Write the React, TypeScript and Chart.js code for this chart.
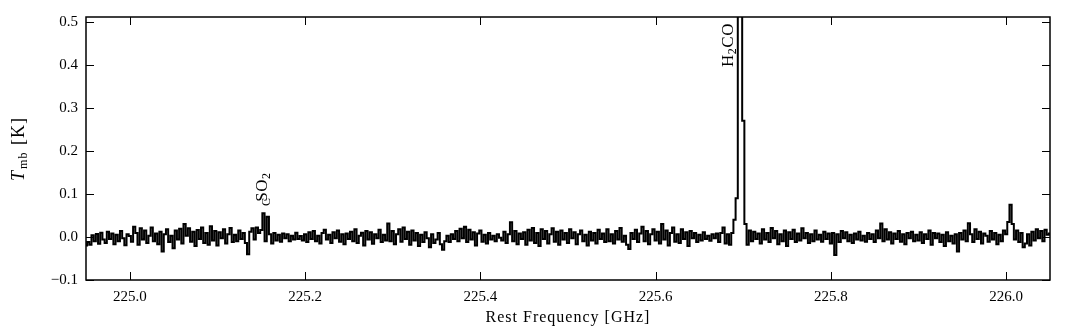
import React, { useEffect, useRef } from "react";
import { Chart, registerables } from "chart.js";

Chart.register(...registerables);

// Spectrum channel grid (GHz)
const FREQ_START = 224.95;
const FREQ_STEP = 0.0025;

// Main-beam temperature per channel [K]
const TMB = [
  -0.020, -0.012, -0.018, 0.004, -0.010, 0.007, -0.016, 0.010, -0.006, -0.014, 0.012, -0.005, 0.008, -0.017, 0.005, -0.010, 0.014, -0.003, -0.019, 0.006,
  0.002, -0.011, 0.024, 0.009, -0.018, 0.020, -0.006, 0.015, -0.014, 0.003, 0.022, -0.010, 0.008, -0.017, 0.012, -0.034, 0.006, 0.018, -0.012, 0.003,
  -0.026, 0.015, -0.006, 0.019, -0.015, 0.030, 0.003, 0.020, -0.011, 0.012, -0.021, 0.016, -0.005, 0.022, -0.014, 0.009, -0.018, 0.025, -0.008, 0.014,
  -0.020, 0.011, -0.003, 0.018, -0.015, 0.006, 0.021, -0.012, 0.005, -0.010, 0.015, -0.005, 0.009, -0.014, -0.040, 0.012, 0.020, -0.006, 0.022, 0.009,
  0.016, 0.055, -0.010, 0.047, 0.006, -0.015, 0.009, -0.008, 0.005, -0.011, 0.008, -0.003, 0.006, -0.010, 0.003, -0.006, 0.010, -0.005, 0.002, -0.008,
  0.006, -0.012, 0.011, -0.005, 0.014, -0.010, 0.003, -0.015, 0.009, 0.017, -0.006, 0.005, -0.014, 0.011, -0.003, 0.015, -0.011, 0.006, -0.017, 0.008,
  -0.005, 0.012, -0.010, 0.018, -0.014, 0.003, 0.010, -0.020, 0.014, -0.006, 0.011, -0.016, 0.006, -0.003, 0.017, -0.012, 0.005, -0.008, 0.031, -0.010,
  0.014, -0.017, 0.006, 0.018, -0.011, 0.022, -0.005, 0.012, -0.018, 0.015, -0.008, 0.009, -0.021, 0.005, -0.012, 0.011, -0.003, -0.024, 0.006, -0.014,
  -0.006, 0.009, -0.017, -0.030, -0.010, 0.003, -0.012, 0.006, -0.005, 0.014, -0.010, 0.019, -0.003, 0.024, -0.012, 0.017, -0.006, 0.011, -0.020, 0.008,
  0.015, -0.011, 0.005, -0.015, 0.009, -0.006, 0.003, -0.010, 0.006, -0.002, -0.008, 0.012, -0.014, 0.006, 0.034, -0.010, 0.014, -0.017, 0.008, -0.005,
  0.011, -0.018, 0.017, -0.008, 0.021, -0.014, 0.009, -0.021, 0.018, -0.005, 0.014, -0.015, 0.006, 0.020, -0.011, 0.012, -0.018, 0.015, -0.006, 0.009,
  -0.014, 0.018, -0.003, 0.011, -0.017, 0.006, 0.015, -0.010, 0.005, -0.020, 0.012, -0.008, 0.009, -0.015, 0.017, -0.005, 0.008, -0.012, 0.018, -0.010,
  0.006, -0.015, 0.014, -0.006, 0.021, -0.011, 0.003, -0.018, -0.028, 0.009, -0.005, 0.017, -0.012, 0.008, 0.024, -0.010, 0.014, -0.017, 0.006, 0.018,
  -0.008, 0.012, -0.015, 0.030, -0.006, 0.015, -0.020, 0.009, 0.022, -0.011, 0.006, -0.014, 0.018, -0.005, 0.011, -0.021, 0.014, -0.003, 0.009, -0.012,
  0.005, -0.008, 0.011, -0.005, 0.003, -0.009, 0.006, -0.003, 0.008, -0.012, 0.009, 0.022, -0.015, 0.006, -0.018, 0.009, 0.040, 0.090, 1.200, 1.100,
  0.270, 0.030, -0.018, 0.015, -0.010, 0.012, -0.005, 0.008, -0.015, 0.018, -0.006, 0.009, -0.012, 0.021, -0.003, 0.014, -0.017, 0.006, -0.010, 0.015,
  -0.021, 0.011, -0.005, 0.017, -0.012, 0.008, -0.008, 0.020, -0.003, 0.009, -0.014, 0.006, -0.010, 0.015, -0.006, 0.005, -0.011, 0.012, -0.005, 0.008,
  -0.015, 0.009, -0.042, 0.006, -0.012, 0.014, -0.003, 0.011, -0.010, 0.005, -0.014, 0.008, -0.006, 0.012, -0.008, 0.003, -0.011, 0.009, -0.005, 0.006,
  -0.012, 0.015, -0.003, 0.031, -0.010, 0.018, -0.006, 0.011, -0.015, 0.008, -0.005, 0.014, -0.011, 0.006, -0.017, 0.009, -0.003, 0.012, -0.010, 0.005,
  -0.008, 0.011, -0.014, 0.006, -0.005, 0.015, -0.018, 0.009, -0.003, 0.008, -0.012, 0.005, -0.021, 0.011, -0.010, 0.003, -0.015, 0.006, -0.034, 0.009,
  -0.006, 0.015, -0.010, 0.032, 0.006, -0.012, 0.018, -0.005, 0.012, -0.015, 0.008, 0.003, -0.011, 0.014, -0.006, 0.009, -0.017, 0.005, -0.010, 0.015,
  0.006, 0.035, 0.075, 0.030, -0.006, 0.015, -0.012, 0.009, -0.024, -0.015, 0.006, -0.020, 0.012, -0.008, 0.018, -0.003, 0.014, -0.010, 0.017, 0.005,
  0.008,
];

const X_TICKS = [225.0, 225.2, 225.4, 225.6, 225.8, 226.0];
const Y_TICKS = [-0.1, 0.0, 0.1, 0.2, 0.3, 0.4, 0.5];
const X_MIN = 224.95;
const X_MAX = 226.05;
const Y_MIN = -0.1;
const Y_MAX = 0.511;

// Line identifications: main text, subscript, rest, at label anchor (freq, Tmb)
const LINE_IDS = [
  { main: "SO", sub: "2", rest: "", freq: 225.1565, tmb: 0.082 },
  { main: "H", sub: "2", rest: "CO", freq: 225.6885, tmb: 0.395 },
];
const EXTRA_MARK = { text: "C", freq: 225.1605, tmb: 0.072 };

const X_TITLE = "Rest Frequency [GHz]";
const FONT = '"Liberation Serif", "Times New Roman", serif';

export default function App() {
  const ref = useRef<HTMLCanvasElement | null>(null);

  useEffect(() => {
    document.body.style.margin = "0";
    const canvas = ref.current;
    if (!canvas) return;

    const points = TMB.map((v, i) => ({ x: FREQ_START + i * FREQ_STEP, y: v }));

    const decor = {
      id: "decor",
      afterDatasetsDraw(chart: any) {
        const ctx = chart.ctx as CanvasRenderingContext2D;
        const { left, right, top, bottom } = chart.chartArea;
        const xs = chart.scales.x;
        const ys = chart.scales.y;
        ctx.save();
        ctx.strokeStyle = "#000";
        ctx.lineWidth = 1.5;
        ctx.strokeRect(left, top, right - left, bottom - top);
        const tl = 8;
        ctx.lineWidth = 1;
        ctx.beginPath();
        X_TICKS.forEach((v) => {
          const px = Math.round(xs.getPixelForValue(v)) + 0.5;
          ctx.moveTo(px, bottom);
          ctx.lineTo(px, bottom - tl);
          ctx.moveTo(px, top);
          ctx.lineTo(px, top + tl);
        });
        Y_TICKS.forEach((v) => {
          const py = Math.round(ys.getPixelForValue(v)) + 0.5;
          ctx.moveTo(left, py);
          ctx.lineTo(left + tl, py);
          ctx.moveTo(right, py);
          ctx.lineTo(right - tl, py);
        });
        ctx.stroke();

        ctx.fillStyle = "#000";
        (ctx as any).letterSpacing = "0.5px";
        // Line labels (rotated, reading bottom to top)
        LINE_IDS.forEach((l) => {
          const px = xs.getPixelForValue(l.freq);
          const py = ys.getPixelForValue(l.tmb);
          ctx.save();
          ctx.translate(px, py);
          ctx.rotate(-Math.PI / 2);
          ctx.textBaseline = "alphabetic";
          ctx.textAlign = "left";
          let cx = 0;
          ctx.font = `17px ${FONT}`;
          ctx.fillText(l.main, cx, 0);
          cx += ctx.measureText(l.main).width;
          ctx.font = `12px ${FONT}`;
          ctx.fillText(l.sub, cx, 3);
          cx += ctx.measureText(l.sub).width;
          if (l.rest) {
            ctx.font = `17px ${FONT}`;
            ctx.fillText(l.rest, cx, 0);
          }
          ctx.restore();
        });
        {
          const px = xs.getPixelForValue(EXTRA_MARK.freq);
          const py = ys.getPixelForValue(EXTRA_MARK.tmb);
          ctx.save();
          ctx.translate(px, py);
          ctx.rotate(-Math.PI / 2);
          ctx.font = `12px ${FONT}`;
          ctx.textBaseline = "alphabetic";
          ctx.fillText(EXTRA_MARK.text, 0, 0);
          ctx.restore();
        }

        // X title
        ctx.font = `16px ${FONT}`;
        ctx.textAlign = "center";
        ctx.textBaseline = "alphabetic";
        (ctx as any).letterSpacing = "1px";
        ctx.fillText(X_TITLE, (left + right) / 2, 322);

        // Y title: T_mb [K]
        const cy = (top + bottom) / 2;
        ctx.textAlign = "left";
        (ctx as any).letterSpacing = "1px";
        const parts = [
          { t: "T", f: `italic 18px ${FONT}`, dy: 0 },
          { t: "mb", f: `12px ${FONT}`, dy: 3 },
          { t: " [K]", f: `18px ${FONT}`, dy: 0 },
        ];
        let total = 0;
        parts.forEach((p) => {
          ctx.font = p.f;
          total += ctx.measureText(p.t).width + 1;
        });
        ctx.save();
        ctx.translate(24, cy + total / 2);
        ctx.rotate(-Math.PI / 2);
        let cx = 0;
        parts.forEach((p) => {
          ctx.font = p.f;
          ctx.fillText(p.t, cx, p.dy);
          cx += ctx.measureText(p.t).width + 1;
        });
        ctx.restore();
        (ctx as any).letterSpacing = "0px";
        ctx.restore();
      },
    };

    const chart = new Chart(canvas, {
      type: "line",
      data: {
        datasets: [
          {
            data: points,
            borderColor: "#000",
            borderWidth: 2,
            pointRadius: 0,
            stepped: "middle",
            fill: false,
          },
        ],
      },
      options: {
        animation: false,
        responsive: false,
        maintainAspectRatio: false,
        layout: { padding: { left: 0, top: 13, right: 22, bottom: 0 } },
        plugins: { legend: { display: false }, tooltip: { enabled: false } },
        scales: {
          x: {
            type: "linear",
            min: X_MIN,
            max: X_MAX,
            grid: { display: false, drawTicks: false },
            border: { display: false },
            afterBuildTicks: (s: any) => {
              s.ticks = X_TICKS.map((v) => ({ value: v }));
            },
            afterFit: (s: any) => {
              s.height = 51;
            },
            ticks: {
              color: "#000",
              padding: 8,
              maxRotation: 0,
              font: { family: FONT, size: 15 },
              callback: (v: any) => Number(v).toFixed(1),
            },
          },
          y: {
            type: "linear",
            min: Y_MIN,
            max: Y_MAX,
            grid: { display: false, drawTicks: false },
            border: { display: false },
            afterBuildTicks: (s: any) => {
              s.ticks = Y_TICKS.map((v) => ({ value: v }));
            },
            afterFit: (s: any) => {
              s.width = 86;
            },
            ticks: {
              color: "#000",
              padding: 8,
              font: { family: FONT, size: 15 },
              callback: (v: any) => {
                const n = Number(v);
                const s = Math.abs(n).toFixed(1);
                return n < -1e-9 ? "\u2212" + s : s;
              },
            },
          },
        },
      },
      plugins: [decor],
    });

    return () => chart.destroy();
  }, []);

  return (
    <div style={{ position: "fixed", left: 0, top: 0, width: 1072, height: 331, background: "#fff" }}>
      <canvas ref={ref} width={1072} height={331} />
    </div>
  );
}
